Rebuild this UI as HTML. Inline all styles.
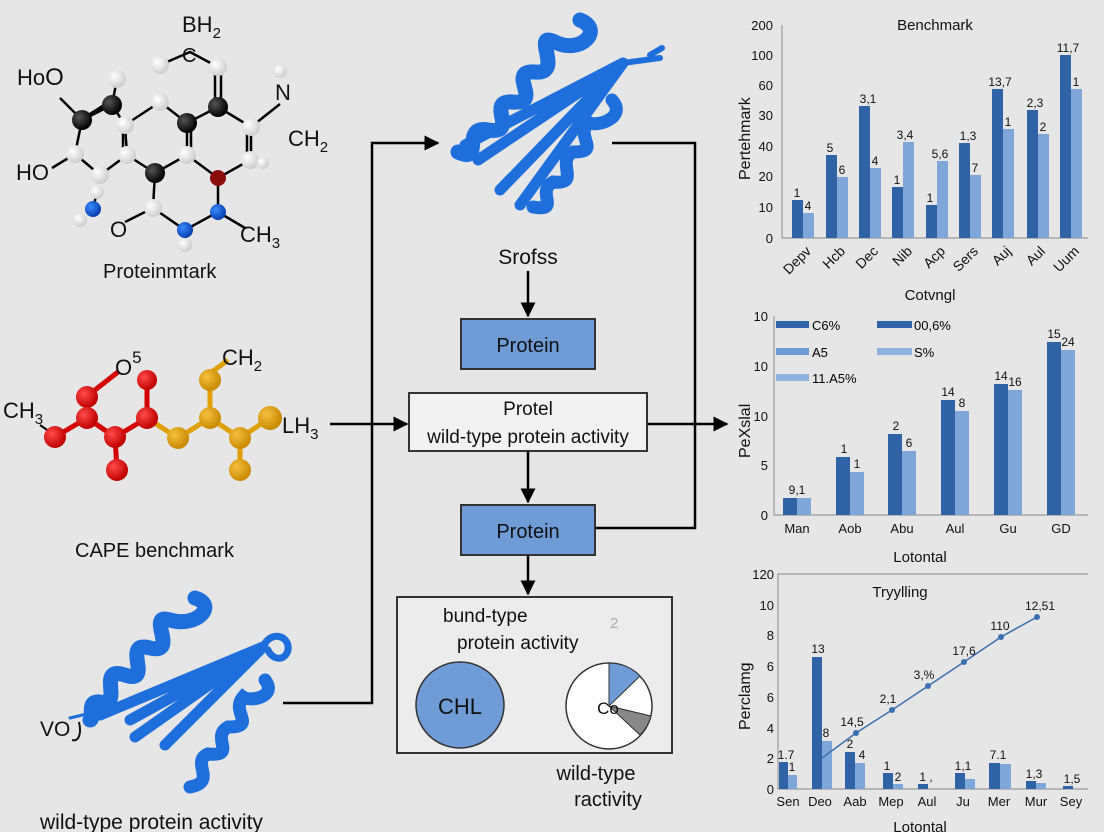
<!DOCTYPE html>
<html><head><meta charset="utf-8"><style>
html,body{margin:0;padding:0;background:#e6e6e6;}
svg{display:block;font-family:"Liberation Sans",sans-serif;}
</style></head><body>
<svg width="1104" height="832" viewBox="0 0 1104 832" xmlns="http://www.w3.org/2000/svg">
<defs>
<radialGradient id="gw" cx="35%" cy="35%" r="65%"><stop offset="0" stop-color="#fff"/><stop offset="1" stop-color="#cfcfcf"/></radialGradient>
<radialGradient id="gk" cx="35%" cy="35%" r="65%"><stop offset="0" stop-color="#555"/><stop offset="1" stop-color="#000"/></radialGradient>
<radialGradient id="gb" cx="35%" cy="35%" r="65%"><stop offset="0" stop-color="#3a8cff"/><stop offset="1" stop-color="#0a3fb0"/></radialGradient>
<radialGradient id="gr" cx="35%" cy="35%" r="65%"><stop offset="0" stop-color="#ff4a4a"/><stop offset="1" stop-color="#c00000"/></radialGradient>
<radialGradient id="gy" cx="35%" cy="35%" r="65%"><stop offset="0" stop-color="#f5c040"/><stop offset="1" stop-color="#c98a00"/></radialGradient>
<marker id="ar" viewBox="0 0 10 10" refX="9" refY="5" markerWidth="6" markerHeight="6" orient="auto"><path d="M0,0L10,5L0,10z" fill="#000"/></marker>
</defs>
<rect width="1104" height="832" fill="#e6e6e6"/>

<!-- Molecule 1 bonds -->
<g stroke="#000" stroke-width="2.5" fill="none">
<path d="M160,65 L190,52 L218,67 M215,67 L215,107 M221,67 L221,107 M218,107 L187,123 L160,102 L125,125 M218,107 L251,127 L280,104 M251,127 L251,160 M247,127 L247,160 M250,160 L218,178 L187,155 L187,123 M191,155 L191,123 M218,178 L218,212 L185,230 L153,208 L155,173 L187,155 M153,208 L125,222 M218,212 L245,228 M125,125 L127,155 L155,173 M123,125 L123,155 M127,155 L100,175 L75,154 L82,120 L112,105 L117,79 M82,120 L60,98 M75,154 L52,168 M112,105 L125,125 M97,192 L93,209"/>
<path d="M85,118 L110,102" stroke-width="4"/>
</g>
<g>
<circle cx="160" cy="65" r="9" fill="url(#gw)"/><circle cx="218" cy="67" r="9" fill="url(#gw)"/>
<circle cx="117" cy="79" r="9" fill="url(#gw)"/><circle cx="280" cy="71" r="7" fill="url(#gw)"/>
<circle cx="160" cy="102" r="9" fill="url(#gw)"/><circle cx="125" cy="125" r="9" fill="url(#gw)"/>
<circle cx="251" cy="127" r="9" fill="url(#gw)"/><circle cx="75" cy="154" r="9" fill="url(#gw)"/>
<circle cx="127" cy="155" r="9" fill="url(#gw)"/><circle cx="187" cy="155" r="9" fill="url(#gw)"/>
<circle cx="250" cy="160" r="9" fill="url(#gw)"/><circle cx="263" cy="163" r="6" fill="url(#gw)"/>
<circle cx="100" cy="175" r="9" fill="url(#gw)"/><circle cx="97" cy="192" r="7" fill="url(#gw)"/>
<circle cx="80" cy="220" r="7" fill="url(#gw)"/><circle cx="153" cy="208" r="9" fill="url(#gw)"/>
<circle cx="185" cy="245" r="7" fill="url(#gw)"/>
<circle cx="218" cy="107" r="10" fill="url(#gk)"/><circle cx="112" cy="105" r="10" fill="url(#gk)"/>
<circle cx="82" cy="120" r="10" fill="url(#gk)"/><circle cx="187" cy="123" r="10" fill="url(#gk)"/>
<circle cx="155" cy="173" r="10" fill="url(#gk)"/><circle cx="218" cy="178" r="8" fill="#8a0d0d"/>
<circle cx="93" cy="209" r="8" fill="url(#gb)"/><circle cx="218" cy="212" r="8" fill="url(#gb)"/>
<circle cx="185" cy="230" r="8" fill="url(#gb)"/>
</g>
<g font-size="22" fill="#111">
<text x="182" y="32">BH<tspan font-size="15" dy="6">2</tspan></text>
<text x="182" y="62" font-size="20">C</text>
<text x="17" y="85">Ho<tspan font-size="24">O</tspan></text>
<text x="275" y="100">N</text>
<text x="288" y="146">CH<tspan font-size="15" dy="6">2</tspan></text>
<text x="16" y="180">HO</text>
<text x="110" y="237">O</text>
<text x="240" y="242">CH<tspan font-size="15" dy="6">3</tspan></text>
<text x="103" y="278" font-size="20">Proteinmtark</text>
</g>

<!-- Molecule 2 -->
<g stroke-width="5" fill="none">
<path d="M55,437 L87,418 L87,397 M87,418 L115,437 L147,418 L147,380 M115,437 L117,470 M95,390 L118,372" stroke="#d40000"/>
<path d="M147,418 L178,438 L210,418 L210,380 M210,418 L240,438 L270,418 M240,438 L240,470 M212,372 L228,360" stroke="#e0a000"/>
<path d="M40,425 L50,432" stroke="#000" stroke-width="2"/>
</g>
<g>
<circle cx="55" cy="437" r="11" fill="url(#gr)"/><circle cx="87" cy="397" r="11" fill="url(#gr)"/>
<circle cx="87" cy="418" r="11" fill="url(#gr)"/><circle cx="115" cy="437" r="11" fill="url(#gr)"/>
<circle cx="147" cy="380" r="10" fill="url(#gr)"/><circle cx="147" cy="418" r="11" fill="url(#gr)"/>
<circle cx="117" cy="470" r="11" fill="url(#gr)"/>
<circle cx="178" cy="438" r="11" fill="url(#gy)"/><circle cx="210" cy="380" r="11" fill="url(#gy)"/>
<circle cx="210" cy="418" r="11" fill="url(#gy)"/><circle cx="270" cy="418" r="12" fill="url(#gy)"/>
<circle cx="240" cy="438" r="11" fill="url(#gy)"/><circle cx="240" cy="470" r="11" fill="url(#gy)"/>
</g>
<g font-size="22" fill="#111">
<text x="115" y="375">O<tspan font-size="17" dy="-12">5</tspan></text>
<text x="222" y="365">CH<tspan font-size="15" dy="6">2</tspan></text>
<text x="3" y="418">CH<tspan font-size="15" dy="6">3</tspan></text>
<text x="282" y="433">LH<tspan font-size="15" dy="6">3</tspan></text>
<text x="75" y="557" font-size="20">CAPE benchmark</text>
</g>

<!-- Top protein -->
<g stroke="#1e6fdc" fill="none" stroke-linecap="round">
<path d="M623,63 L465,145 M623,63 L478,160 M623,63 L500,190 M623,63 L520,205" stroke-width="11"/>
<path d="M580,20 C605,30 580,55 555,42 C530,30 565,75 535,72 C505,70 545,105 512,102 C485,100 520,135 488,130 C460,125 485,165 458,152" stroke-width="15"/>
<path d="M612,100 C628,118 595,128 588,122 C575,138 602,152 573,152 C555,162 582,185 553,182 C535,192 562,212 533,207" stroke-width="13"/>
<path d="M623,63 L660,58 M650,55 L662,48" stroke-width="6"/>
</g>

<!-- Bottom-left protein -->
<g stroke="#1e6fdc" fill="none" stroke-linecap="round">
<path d="M263,647 L100,715 M263,647 L130,720 M263,647 L135,737 M263,647 L165,745 M263,647 L175,735" stroke-width="11"/>
<path d="M195,598 C218,605 197,628 170,620 C145,612 180,655 150,648 C120,640 155,685 125,675 C95,665 125,708 100,702 C85,700 95,720 90,720" stroke-width="15"/>
<path d="M265,680 C278,697 250,702 243,697 C230,712 258,727 228,727 C210,737 238,757 208,754 C190,762 218,782 190,787" stroke-width="13"/>
<path d="M263,647 C270,630 290,635 288,650 C285,662 272,660 268,650" stroke-width="7"/>
<path d="M70,718 L95,712" stroke-width="3"/>
</g>
<text x="40" y="736" font-size="21" fill="#111">VO</text>
<path d="M79,722 C82,735 78,742 72,740" stroke="#111" stroke-width="2" fill="none"/>
<text x="40" y="829" font-size="21" fill="#111">wild-type protein activity</text>

<!-- Flow -->
<g stroke="#000" stroke-width="2.5" fill="none">
<path d="M283,703 L372,703 L372,143 L438,143" marker-end="url(#ar)"/>
<path d="M330,424 L407,424" marker-end="url(#ar)"/>
<path d="M612,143 L695,143 L695,528 L595,528"/>
<path d="M647,424 L727,424" marker-end="url(#ar)"/>
<path d="M528,271 L528,316" marker-end="url(#ar)"/>
<path d="M528,451 L528,502" marker-end="url(#ar)"/>
<path d="M528,555 L528,594" marker-end="url(#ar)"/>
</g>
<text x="528" y="264" font-size="21" text-anchor="middle" fill="#111">Srofss</text>
<rect x="461" y="319" width="134" height="50" fill="#6f9bd6" stroke="#333" stroke-width="2"/>
<text x="528" y="352" font-size="20" text-anchor="middle" fill="#111">Protein</text>
<rect x="409" y="393" width="238" height="58" fill="#f2f2f2" stroke="#333" stroke-width="2"/>
<text x="528" y="415" font-size="19" text-anchor="middle" fill="#111">Protel</text>
<text x="528" y="443" font-size="19" text-anchor="middle" fill="#111">wild-type protein activity</text>
<rect x="461" y="505" width="134" height="50" fill="#6f9bd6" stroke="#333" stroke-width="2"/>
<text x="528" y="538" font-size="20" text-anchor="middle" fill="#111">Protein</text>
<rect x="397" y="597" width="275" height="156" fill="#ececec" stroke="#333" stroke-width="2"/>
<text x="443" y="622" font-size="19" fill="#111">bund-type</text>
<text x="457" y="649" font-size="19" fill="#111">protein activity</text>
<text x="610" y="628" font-size="15" fill="#aaa">2</text>
<ellipse cx="460" cy="705" rx="44" ry="43" fill="#6f9bd6" stroke="#333" stroke-width="1.5"/>
<text x="460" y="714" font-size="22" text-anchor="middle" fill="#111">CHL</text>
<circle cx="609" cy="706" r="43" fill="#fff" stroke="#333" stroke-width="1.5"/>
<path d="M609,706 L609,663 A43,43 0 0 1 640,676 Z" fill="#6f9bd6" stroke="#333" stroke-width="1"/>
<path d="M609,706 L651,716 A43,43 0 0 1 640,735 Z" fill="#888" stroke="#333" stroke-width="1"/>
<text x="608" y="714" font-size="17" text-anchor="middle" fill="#111">Co</text>
<text x="596" y="780" font-size="20" text-anchor="middle" fill="#111">wild-type</text>
<text x="608" y="806" font-size="20" text-anchor="middle" fill="#111">ractivity</text>

<!-- Chart 1 -->
<g font-size="13" fill="#111">
<text x="935" y="30" font-size="15" text-anchor="middle">Benchmark</text>
<g text-anchor="end">
<text x="773" y="30">200</text><text x="773" y="60">100</text><text x="773" y="90">60</text>
<text x="773" y="120">30</text><text x="773" y="151">40</text><text x="773" y="181">20</text>
<text x="773" y="212">10</text><text x="773" y="243">0</text>
</g>
<text transform="translate(750,180) rotate(-90)" font-size="16">Pertehmark</text>
</g>
<path d="M782,25 L782,238 L1088,238" stroke="#999" stroke-width="1.2" fill="none"/>
<g fill="#2f63a6">
<rect x="792" y="200" width="11" height="38"/><rect x="826" y="155" width="11" height="83"/>
<rect x="859" y="106" width="11" height="132"/><rect x="892" y="187" width="11" height="51"/>
<rect x="926" y="205" width="11" height="33"/><rect x="959" y="143" width="11" height="95"/>
<rect x="992" y="89" width="11" height="149"/><rect x="1027" y="110" width="11" height="128"/>
<rect x="1060" y="55" width="11" height="183"/>
</g>
<g fill="#7fa6d8">
<rect x="803" y="213" width="11" height="25"/><rect x="837" y="177" width="11" height="61"/>
<rect x="870" y="168" width="11" height="70"/><rect x="903" y="142" width="11" height="96"/>
<rect x="937" y="161" width="11" height="77"/><rect x="970" y="175" width="11" height="63"/>
<rect x="1003" y="129" width="11" height="109"/><rect x="1038" y="134" width="11" height="104"/>
<rect x="1071" y="89" width="11" height="149"/>
</g>
<g font-size="12" fill="#111" text-anchor="middle">
<text x="797" y="197">1</text><text x="808" y="210">4</text>
<text x="830" y="152">5</text><text x="842" y="174">6</text>
<text x="868" y="103">3,1</text><text x="875" y="165">4</text>
<text x="897" y="184">1</text><text x="905" y="139">3,4</text>
<text x="930" y="202">1</text><text x="940" y="158">5,6</text>
<text x="968" y="140">1,3</text><text x="975" y="172">7</text>
<text x="1000" y="86">13,7</text><text x="1008" y="126">1</text>
<text x="1035" y="107">2,3</text><text x="1043" y="131">2</text>
<text x="1068" y="52">11,7</text><text x="1076" y="86">1</text>
</g>
<g font-size="14" fill="#111" text-anchor="end">
<text transform="translate(812,252) rotate(-45)">Depv</text>
<text transform="translate(846,252) rotate(-45)">Hcb</text>
<text transform="translate(879,252) rotate(-45)">Dec</text>
<text transform="translate(913,252) rotate(-45)">Nib</text>
<text transform="translate(946,252) rotate(-45)">Acp</text>
<text transform="translate(979,252) rotate(-45)">Sers</text>
<text transform="translate(1012,252) rotate(-45)">Auj</text>
<text transform="translate(1046,252) rotate(-45)">Aul</text>
<text transform="translate(1080,252) rotate(-45)">Uum</text>
</g>

<!-- Chart 2 -->
<g font-size="13" fill="#111">
<text x="930" y="300" font-size="15" text-anchor="middle">Cotvngl</text>
<text x="920" y="562" font-size="15" text-anchor="middle">Lotontal</text>
<g text-anchor="end">
<text x="768" y="321">10</text><text x="768" y="371">10</text><text x="768" y="421">10</text>
<text x="768" y="470">5</text><text x="768" y="520">0</text>
</g>
<text transform="translate(750,458) rotate(-90)" font-size="16">PeXslal</text>
</g>
<path d="M774,316 L774,515 L1088,515" stroke="#999" stroke-width="1.2" fill="none"/>
<rect x="776" y="321" width="33" height="7" fill="#2f63a6"/><text x="812" y="330" font-size="13">C6%</text>
<rect x="877" y="321" width="35" height="7" fill="#2f63a6"/><text x="914" y="330" font-size="13">00,6%</text>
<rect x="776" y="348" width="33" height="7" fill="#6f9bd6"/><text x="812" y="357" font-size="13">A5</text>
<rect x="877" y="348" width="35" height="7" fill="#8fb2de"/><text x="914" y="357" font-size="13">S%</text>
<rect x="776" y="374" width="33" height="7" fill="#8fb2de"/><text x="812" y="383" font-size="13">11.A5%</text>
<g fill="#2f63a6">
<rect x="783" y="498" width="14" height="17"/><rect x="836" y="457" width="14" height="58"/>
<rect x="888" y="434" width="14" height="81"/><rect x="941" y="400" width="14" height="115"/>
<rect x="994" y="384" width="14" height="131"/><rect x="1047" y="342" width="14" height="173"/>
</g>
<g fill="#7fa6d8">
<rect x="797" y="498" width="14" height="17"/><rect x="850" y="472" width="14" height="43"/>
<rect x="902" y="451" width="14" height="64"/><rect x="955" y="411" width="14" height="104"/>
<rect x="1008" y="390" width="14" height="125"/><rect x="1061" y="350" width="14" height="165"/>
</g>
<g font-size="12" fill="#111" text-anchor="middle">
<text x="797" y="494">9,1</text><text x="844" y="453">1</text><text x="857" y="468">1</text>
<text x="896" y="430">2</text><text x="909" y="447">6</text>
<text x="948" y="396">14</text><text x="962" y="407">8</text>
<text x="1001" y="380">14</text><text x="1015" y="386">16</text>
<text x="1054" y="338">15</text><text x="1068" y="346">24</text>
</g>
<g font-size="13" fill="#111" text-anchor="middle">
<text x="797" y="533">Man</text><text x="850" y="533">Aob</text><text x="902" y="533">Abu</text>
<text x="955" y="533">Aul</text><text x="1008" y="533">Gu</text><text x="1061" y="533">GD</text>
</g>

<!-- Chart 3 -->
<g font-size="13" fill="#111">
<text x="900" y="597" font-size="15" text-anchor="middle">Tryylling</text>
<text x="920" y="832" font-size="15" text-anchor="middle">Lotontal</text>
<g text-anchor="end">
<text x="774" y="579">120</text><text x="774" y="610">10</text><text x="774" y="640">8</text>
<text x="774" y="671">6</text><text x="774" y="702">6</text><text x="774" y="733">4</text>
<text x="774" y="763">2</text><text x="774" y="794">0</text>
</g>
<text transform="translate(750,730) rotate(-90)" font-size="16">Perclamg</text>
</g>
<path d="M778,574 L1088,574 M778,574 L778,789 L1088,789" stroke="#999" stroke-width="1.2" fill="none"/>
<g fill="#2f63a6">
<rect x="779" y="762" width="9" height="27"/><rect x="812" y="657" width="10" height="132"/>
<rect x="845" y="752" width="10" height="37"/><rect x="883" y="773" width="10" height="16"/>
<rect x="918" y="784" width="10" height="5"/><rect x="955" y="773" width="10" height="16"/>
<rect x="989" y="763" width="11" height="26"/><rect x="1026" y="781" width="10" height="8"/>
<rect x="1063" y="786" width="10" height="3"/>
</g>
<g fill="#7fa6d8">
<rect x="788" y="775" width="9" height="14"/><rect x="822" y="741" width="10" height="48"/>
<rect x="855" y="763" width="10" height="26"/><rect x="893" y="784" width="10" height="5"/>
<rect x="965" y="779" width="10" height="10"/><rect x="1000" y="764" width="11" height="25"/>
<rect x="1036" y="783" width="10" height="6"/>
</g>
<polyline points="822,758 856,733 892,710 928,686 964,662 1001,637 1037,617" fill="none" stroke="#3a6fb0" stroke-width="1.5"/>
<g fill="#3a6fb0">
<circle cx="856" cy="733" r="3"/><circle cx="892" cy="710" r="3"/><circle cx="928" cy="686" r="3"/>
<circle cx="964" cy="662" r="3"/><circle cx="1001" cy="637" r="3"/><circle cx="1037" cy="617" r="3"/>
</g>
<g font-size="12" fill="#111" text-anchor="middle">
<text x="786" y="759">1.7</text><text x="792" y="771">1</text>
<text x="818" y="653">13</text><text x="826" y="737">8</text>
<text x="852" y="726">14,5</text><text x="850" y="748">2</text><text x="862" y="759">4</text>
<text x="888" y="703">2,1</text><text x="887" y="770">1</text><text x="898" y="781">2</text>
<text x="924" y="679">3,%</text><text x="926" y="781">1 ,</text>
<text x="964" y="655">17,6</text><text x="963" y="770">1,1</text>
<text x="1000" y="630">110</text><text x="998" y="759">7.1</text>
<text x="1040" y="610">12,51</text><text x="1034" y="778">1,3</text><text x="1072" y="783">1,5</text>
</g>
<g font-size="13" fill="#111" text-anchor="middle">
<text x="788" y="806">Sen</text><text x="820" y="806">Deo</text><text x="855" y="806">Aab</text>
<text x="891" y="806">Mep</text><text x="927" y="806">Aul</text><text x="963" y="806">Ju</text>
<text x="999" y="806">Mer</text><text x="1036" y="806">Mur</text><text x="1071" y="806">Sey</text>
</g>
</svg>
</body></html>
